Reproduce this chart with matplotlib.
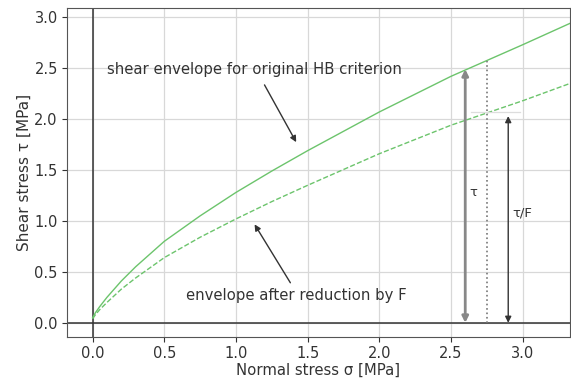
import matplotlib
matplotlib.use("Agg")
import matplotlib.pyplot as plt

# values
sigma = [0.0, 0.02, 0.05, 0.1, 0.2, 0.3, 0.5, 0.75, 1.0, 1.25, 1.5, 2.0, 2.5, 3.0, 3.33]
tau = [0.05, 0.10, 0.16, 0.25, 0.41, 0.55, 0.80, 1.05, 1.28, 1.49, 1.69, 2.07, 2.42, 2.73, 2.94]
tau_reduced = [0.04, 0.08, 0.13, 0.20, 0.33, 0.44, 0.64, 0.84, 1.02, 1.19, 1.35, 1.66, 1.94, 2.18, 2.35]

x_tau_arrow, tau_top = 2.6, 2.49
x_dotted, tau_dotted = 2.75, 2.57
x_tauF_arrow, tauF_top = 2.9, 2.03

curve_color = '#6cc46c'
text_color = '#333333'
fs = 10.7

fig, ax = plt.subplots(figsize=(5.71, 3.87), dpi=100)
fig.subplots_adjust(left=0.117, right=0.998, bottom=0.129, top=0.979)

ax.grid(color='#d8d8d8', linewidth=0.9)
ax.set_axisbelow(True)
ax.axhline(0, color='#333333', linewidth=1.1)
ax.axvline(0, color='#333333', linewidth=1.1)

ax.plot(sigma, tau, color=curve_color, linewidth=1.0)
ax.plot(sigma, tau_reduced, color=curve_color, linewidth=1.0, linestyle='--')

# tau and tau/F markers
ax.annotate('', xy=(x_tau_arrow, tau_top), xytext=(x_tau_arrow, 0.0),
            arrowprops=dict(arrowstyle='<|-|>', color='#888888', lw=2.0,
                            shrinkA=0, shrinkB=0, mutation_scale=9))
ax.annotate('', xy=(x_tauF_arrow, tauF_top), xytext=(x_tauF_arrow, 0.0),
            arrowprops=dict(arrowstyle='<|-|>', color='#333333', lw=1.0,
                            shrinkA=0, shrinkB=0, mutation_scale=9))
ax.plot([x_dotted, x_dotted], [0, tau_dotted], color='#777777', linewidth=1.2, linestyle=':')
ax.plot([2.64, 2.98], [2.07, 2.07], color='#dddddd', linewidth=0.9)
ax.text(2.63, 1.28, 'τ', fontsize=9.5, color=text_color, ha='left', va='center')
ax.text(2.93, 1.08, 'τ/F', fontsize=9.5, color=text_color, ha='left', va='center')

# curve labels
ax.text(0.1, 2.49, 'shear envelope for original HB criterion', fontsize=fs,
        color=text_color, ha='left', va='center')
ax.annotate('', xy=(1.43, 1.75), xytext=(1.19, 2.36),
            arrowprops=dict(arrowstyle='-|>', color=text_color, lw=1.0, mutation_scale=9))
ax.text(0.65, 0.27, 'envelope after reduction by F', fontsize=fs,
        color=text_color, ha='left', va='center')
ax.annotate('', xy=(1.12, 0.99), xytext=(1.39, 0.37),
            arrowprops=dict(arrowstyle='-|>', color=text_color, lw=1.0, mutation_scale=9))

ax.set_xlim(-0.18, 3.33)
ax.set_ylim(-0.14, 3.09)
ax.set_xticks([0.0, 0.5, 1.0, 1.5, 2.0, 2.5, 3.0])
ax.set_yticks([0.0, 0.5, 1.0, 1.5, 2.0, 2.5, 3.0])
ax.tick_params(labelsize=10.5, colors=text_color, pad=3)
ax.set_xlabel('Normal stress σ [MPa]', fontsize=fs, color=text_color, labelpad=1)
ax.set_ylabel('Shear stress τ [MPa]', fontsize=11, color=text_color, labelpad=2)
for s in ax.spines.values():
    s.set_color('#555555')

fig.savefig('out.png', dpi=100)
